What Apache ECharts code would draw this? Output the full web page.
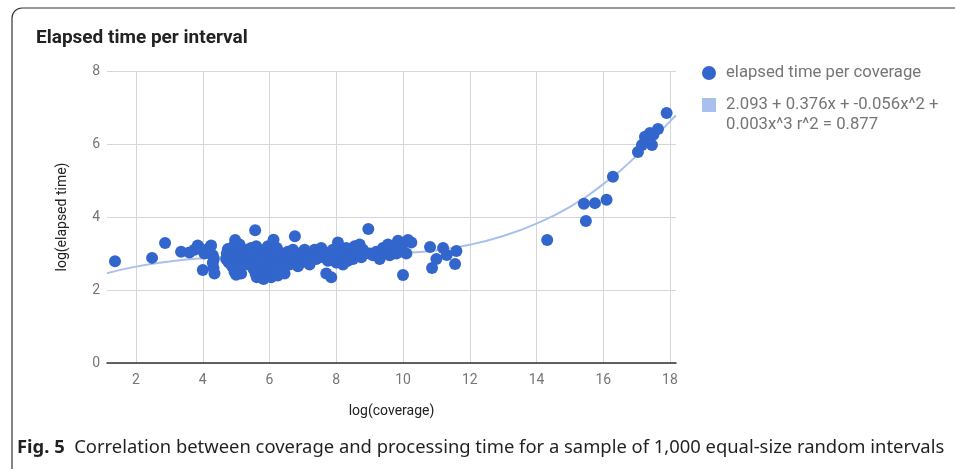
<!DOCTYPE html>
<html><head><meta charset="utf-8">
<script src="https://cdn.jsdelivr.net/npm/echarts@6/dist/echarts.min.js"></script>
<style>html,body{margin:0;padding:0;background:#fff}#c{width:955px;height:469px}</style>
</head><body><div id="c"></div>
<script>
// scatter points: log(coverage) and log(elapsed time)
const coverage = [
 1.37,2.48,2.87,
 3.35,3.6,3.75,3.85,3.95,4.05,4.15,4.25,4.3,4.0,4.3,4.32,4.35,4.33,4.2,
 4.7,4.72,4.75,4.78,4.8,4.85,4.88,4.9,4.92,4.95,4.97,5.0,5.0,5.02,5.05,5.08,5.1,5.12,5.15,5.2,5.25,5.3,5.35,
 5.45,5.5,5.52,5.55,5.57,5.58,5.6,5.62,5.65,5.68,5.7,5.72,5.75,5.8,5.82,5.85,5.9,5.92,5.95,6.0,6.02,6.05,6.08,6.1,6.12,6.15,6.18,6.2,6.22,6.25,6.3,6.35,6.38,
 6.45,6.5,6.55,6.6,6.65,6.7,6.76,6.8,6.85,6.9,6.95,7.0,7.05,7.1,7.15,7.2,7.3,7.35,7.4,7.45,
 7.55,7.6,7.65,7.7,7.75,7.8,7.85,7.9,7.95,8.0,8.05,8.1,8.15,8.2,8.25,8.3,8.35,8.4,8.45,
 8.5,8.55,8.6,8.7,8.75,8.8,8.96,9.0,9.1,9.2,9.3,9.4,9.5,9.55,9.6,9.7,9.8,9.85,9.9,10.0,10.05,10.1,10.15,10.25,
 10.81,10.87,11.0,11.2,11.31,11.6,11.56,
 14.32,15.42,15.48,15.75,16.1,16.29,17.04,17.16,17.25,17.34,17.4,17.46,17.5,17.64,17.9
];
const elapsed = [
 2.79,2.88,3.29,
 3.05,3.03,3.1,3.22,3.12,3.0,3.08,3.22,2.95,2.55,2.75,2.6,2.45,2.85,3.15,
 2.85,3.0,3.12,2.75,2.95,3.05,2.65,2.9,3.2,2.5,3.37,2.42,2.78,3.1,2.6,2.95,3.25,2.85,2.45,3.0,2.7,3.1,2.9,
 3.15,2.6,2.8,3.0,3.64,2.45,3.2,2.35,2.7,2.9,3.1,2.55,2.4,3.05,2.3,2.75,2.95,2.5,3.2,2.65,2.85,2.35,3.05,2.45,3.38,2.75,2.55,2.95,3.15,2.4,2.85,2.65,3.0,
 2.45,2.8,3.05,2.7,2.9,3.1,3.47,2.85,2.65,3.0,2.75,2.9,3.1,2.8,3.0,2.7,2.95,3.1,2.85,3.0,
 3.15,2.9,3.05,2.45,2.8,3.0,2.35,3.1,2.9,2.75,3.3,3.05,2.85,2.7,3.0,3.15,2.8,2.95,3.1,
 2.85,3.2,3.0,3.25,2.9,3.1,3.67,3.0,2.95,3.05,2.85,3.15,3.0,3.25,2.95,3.1,3.0,3.35,3.05,2.41,3.3,3.0,3.37,3.3,
 3.18,2.6,2.85,3.15,2.96,3.07,2.71,
 3.37,4.36,3.89,4.38,4.47,5.1,5.78,5.97,6.2,6.1,6.3,5.97,6.25,6.41,6.85
];
// trendline
const trendX = [1.13,2,3,4,5,6,7,8,9,10,11,12,13,14,15,16,17,18,18.18];
const trendY = [2.46,2.64,2.78,2.87,2.92,2.94,2.94,2.95,2.97,3.01,3.09,3.24,3.48,3.82,4.28,4.9,5.68,6.62,6.78];
const xTicks = [2,4,6,8,10,12,14,16,18];
const seriesNames = ['elapsed time per coverage', '2.093 + 0.376x + -0.056x^2 + 0.003x^3 r^2 = 0.877'];

const chart = echarts.init(document.getElementById('c'), null, {renderer:'canvas'});
const pts = coverage.map((x,i)=>[x, elapsed[i]]);
const trend = trendX.map((x,i)=>[x, trendY[i]]);
const grey = '#757575';
const legendText = {fontFamily:'Roboto', fontSize:16.7, color:grey, lineHeight:20};
chart.setOption({
  animation:false,
  backgroundColor:'#fff',
  title:{text:'Elapsed time per interval', left:31, top:24,
    textStyle:{fontFamily:'Roboto', fontWeight:'bold', fontSize:19, color:'#222'}},
  legend:[
    {orient:'vertical', left:702, top:63, padding:0, itemWidth:24, itemHeight:14,
      symbolKeepAspect:true, textStyle:legendText,
      data:[{name:seriesNames[0], icon:'circle'}]},
    {orient:'vertical', left:702, top:75, padding:0, itemWidth:24, itemHeight:14,
      symbolKeepAspect:true, textStyle:legendText,
      formatter:()=>'\n2.093 + 0.376x + -0.056x^2 +\n0.003x^3 r^2 = 0.877',
      data:[{name:seriesNames[1], icon:'path://M0 0H10V10H0Z'}]}
  ],
  grid:{left:107, right:279, top:71, bottom:106},
  xAxis:{type:'value', min:1.13, max:18.18,
    name:'log(coverage)', nameLocation:'middle', nameGap:41,
    nameTextStyle:{fontFamily:'Roboto', fontSize:14, color:'#222'},
    axisLine:{show:true, onZero:false, lineStyle:{color:'#333', width:1.5}},
    axisTick:{show:false, customValues:xTicks},
    axisLabel:{customValues:xTicks, margin:10, fontFamily:'Roboto', fontSize:14, color:grey},
    splitLine:{show:true, lineStyle:{color:'#d6d6d6', width:1}}},
  yAxis:{type:'value', min:0, max:8, interval:2,
    name:'log(elapsed time)', nameLocation:'middle', nameGap:38, nameRotate:90,
    nameTextStyle:{fontFamily:'Roboto', fontSize:14, color:'#222'},
    axisLine:{show:false}, axisTick:{show:false},
    axisLabel:{margin:7, fontFamily:'Roboto', fontSize:14, color:grey},
    splitLine:{show:true, lineStyle:{color:'#d6d6d6', width:1}}},
  series:[
    {name:seriesNames[1], type:'line', data:trend, smooth:true, symbol:'none', z:2,
      itemStyle:{color:'#a9c0ee'}, lineStyle:{color:'#a9c0ee', width:2}},
    {name:seriesNames[0], type:'scatter', data:pts, symbolSize:12, z:3,
      itemStyle:{color:'#3366cc', opacity:1}}
  ],
  graphic:[
    {type:'rect', shape:{x:12, y:8, width:1000, height:600, r:10}, silent:true,
      style:{fill:'none', stroke:'#333', lineWidth:1.2}},
    {type:'text', left:17, top:439, silent:true,
      style:{text:'{b|Fig. 5}  Correlation between coverage and processing time for a sample of 1,000 equal-size random intervals',
        rich:{b:{fontFamily:'Noto Sans', fontWeight:'bold', fontSize:18.4, fill:'#231f20'}},
        fontFamily:'Noto Sans', fontSize:18.4, fill:'#231f20'}}
  ]
});
</script></body></html>
